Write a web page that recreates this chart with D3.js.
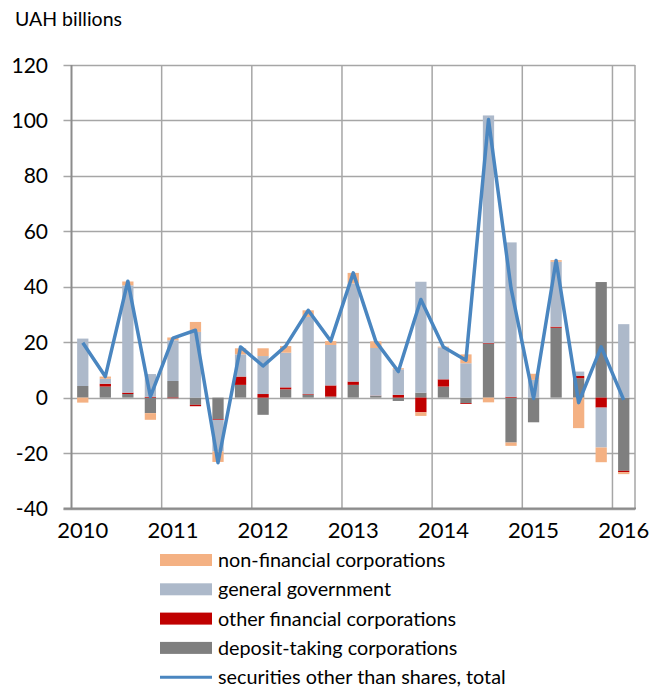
<!DOCTYPE html>
<html>
<head>
<meta charset="utf-8">
<script src="https://cdn.jsdelivr.net/npm/d3@7"></script>
<style>
  html, body { margin: 0; padding: 0; background: #fff; }
  svg text { font-family: Lato, "Open Sans", sans-serif; fill: #000; }
</style>
</head>
<body>
<svg id="chart" width="664" height="690"></svg>
<script>
const quarters = ["2010Q1","2010Q2","2010Q3","2010Q4","2011Q1","2011Q2","2011Q3","2011Q4",
  "2012Q1","2012Q2","2012Q3","2012Q4","2013Q1","2013Q2","2013Q3","2013Q4",
  "2014Q1","2014Q2","2014Q3","2014Q4","2015Q1","2015Q2","2015Q3","2015Q4","2016Q1"];
const depositTaking = [4.2, 4.0, 1.3, -5.6, 6.0, -2.6, -7.7, 4.6, -6.2, 3.0, 1.1, 0.4, 4.6, 0.6, -1.2, 1.8, 4.0, -2.0, 19.5, -16.2, -8.9, 25.2, 7.0, 41.7, -26.4];
const otherFinancial = [0, 1.0, 0.5, 0.3, -0.2, -0.5, -0.3, 3.0, 1.3, 0.7, 0.2, 4.0, 1.2, 0.1, 1.0, -5.3, 2.6, -0.3, 0.2, 0.3, 0, 0.4, 0.8, -3.6, -0.5];
const generalGovernment = [17.1, 1.8, 38.7, 8.2, 14.7, 23.7, -11.4, 8.0, 13.7, 12.5, 27.8, 14.6, 35.4, 17.2, 9.2, 40.0, 11.5, 12.4, 82.1, 55.7, 6.4, 23.4, 1.6, -14.4, 26.5];
const nonFinancial = [-1.8, 0.8, 1.4, -2.4, 1.0, 3.6, -3.8, 2.2, 2.8, 2.4, 2.4, 1.4, 3.8, 2.4, 0.4, -1.3, 0.3, 3.2, -1.7, -1.2, 2.2, 0.6, -11.0, -5.3, -0.7];
const total = [19.8, 7.6, 42.0, 0.4, 21.5, 24.3, -23.5, 18.3, 11.4, 18.6, 31.5, 20.4, 45.0, 20.3, 9.4, 35.4, 18.3, 13.5, 100.3, 39.5, -0.3, 49.5, -1.8, 18.3, -0.8];
const yTicks = [-40, -20, 0, 20, 40, 60, 80, 100, 120];
const yearLabels = ["2010","2011","2012","2013","2014","2015","2016"];

const seriesKeys = ["dep","ofc","gg","nfc"];
const seriesNames = {
  nfc: "non-financial corporations",
  gg: "general government",
  ofc: "other financial corporations",
  dep: "deposit-taking corporations"
};
const colors = { nfc: "#F4B183", gg: "#ADB9CA", ofc: "#C00000", dep: "#7F7F7F" };
const lineColor = "#4A86C0";

const rows = quarters.map((q, i) => ({
  q, dep: depositTaking[i], ofc: otherFinancial[i], gg: generalGovernment[i], nfc: nonFinancial[i], total: total[i]
}));

const svg = d3.select("#chart");
const pLeft = 71.5, pRight = 635, pTop = 65, pBottom = 508.5;

const x = d3.scaleBand().domain(quarters).range([pLeft, pRight]).paddingInner(0.5).paddingOuter(0.25);
const y = d3.scaleLinear().domain([-40, 120]).range([pBottom, pTop]);
const step = x.step();
const bandStart = q => pLeft + quarters.indexOf(q) * step;

// gridlines
const grid = svg.append("g");
grid.selectAll("line.h").data(yTicks).join("line")
  .attr("x1", pLeft - 8).attr("x2", pRight)
  .attr("y1", d => Math.round(y(d)) + 0.5).attr("y2", d => Math.round(y(d)) + 0.5)
  .attr("stroke", "#A6A6A6").attr("stroke-width", 1.5);
const yearBoundaries = quarters.filter(q => q.endsWith("Q1")).slice(1);
grid.selectAll("line.v").data(yearBoundaries).join("line")
  .attr("x1", d => bandStart(d)).attr("x2", d => bandStart(d))
  .attr("y1", pTop).attr("y2", pBottom)
  .attr("stroke", "#A6A6A6").attr("stroke-width", 1.5);
grid.append("line").attr("x1", pRight).attr("x2", pRight).attr("y1", pTop).attr("y2", pBottom)
  .attr("stroke", "#A6A6A6").attr("stroke-width", 1.5);

// stacked bars
const stack = d3.stack().keys(seriesKeys).offset(d3.stackOffsetDiverging);
const stacked = stack(rows);
svg.append("g").selectAll("g").data(stacked).join("g")
  .attr("fill", d => colors[d.key])
  .selectAll("rect").data(d => d).join("rect")
  .attr("x", d => x(d.data.q))
  .attr("width", x.bandwidth())
  .attr("y", d => y(Math.max(d[0], d[1])))
  .attr("height", d => Math.abs(y(d[0]) - y(d[1])));

// axes lines
svg.append("line").attr("x1", pLeft).attr("x2", pLeft).attr("y1", pTop).attr("y2", pBottom + 0.75)
  .attr("stroke", "#8C8C8C").attr("stroke-width", 2);
svg.append("line").attr("x1", pLeft - 8).attr("x2", pRight + 1).attr("y1", pBottom).attr("y2", pBottom)
  .attr("stroke", "#8C8C8C").attr("stroke-width", 2);

// total line
const line = d3.line().x(d => x(d.q) + x.bandwidth() / 2).y(d => y(d.total));
svg.append("path").datum(rows).attr("d", line)
  .attr("fill", "none").attr("stroke", lineColor).attr("stroke-width", 3.5)
  .attr("stroke-linejoin", "round");

// y labels
svg.append("g").selectAll("text").data(yTicks).join("text")
  .attr("x", 48).attr("y", d => y(d)).attr("dy", "0.36em")
  .attr("text-anchor", "end").attr("font-size", 21).text(d => d);

// x labels
svg.append("g").selectAll("text").data(yearLabels).join("text")
  .attr("x", d => x(d + "Q1") + x.bandwidth() / 2).attr("y", 538)
  .attr("text-anchor", "middle").attr("font-size", 22).text(d => d);

// axis title
svg.append("text").attr("x", 15).attr("y", 26).attr("font-size", 19.5).text("UAH billions");

// legend
const legendItems = ["nfc","gg","ofc","dep","total"];
const lg = svg.append("g");
legendItems.forEach((k, i) => {
  const cy = 560 + i * 29.3;
  if (k === "total") {
    lg.append("line").attr("x1", 160).attr("x2", 212).attr("y1", cy).attr("y2", cy)
      .attr("stroke", lineColor).attr("stroke-width", 3);
  } else {
    lg.append("rect").attr("x", 160).attr("y", cy - 6).attr("width", 52).attr("height", 12)
      .attr("fill", colors[k]);
  }
  lg.append("text").attr("x", 218).attr("y", cy).attr("dy", "0.35em").attr("font-size", 19.8)
    .text(k === "total" ? "securities other than shares, total" : seriesNames[k]);
});
</script>
</body>
</html>
